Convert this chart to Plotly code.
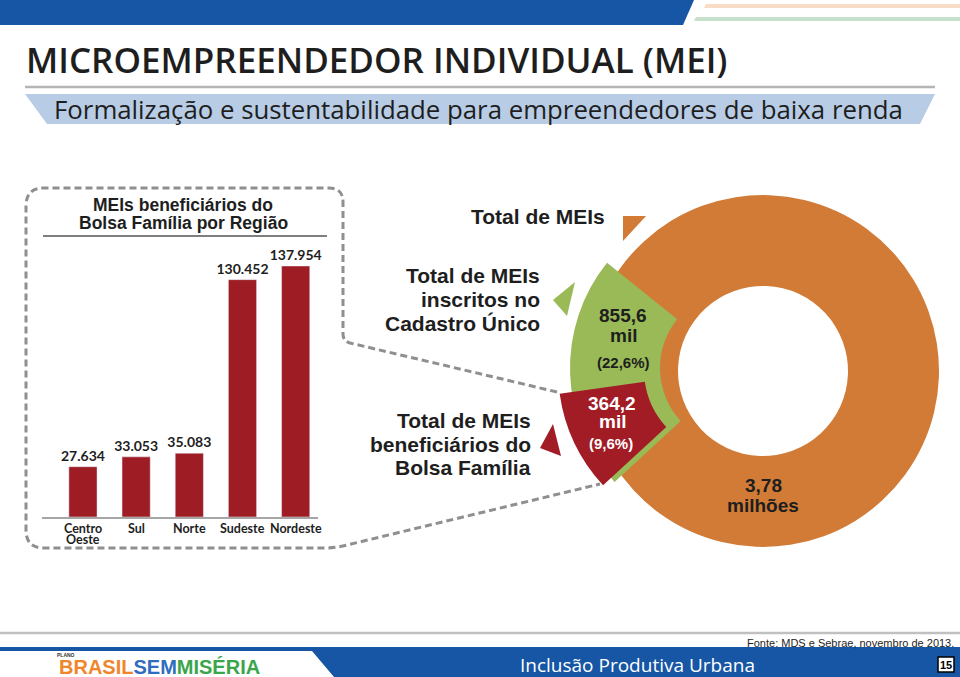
import plotly.graph_objects as go

W, H = 960, 677

# MEIs beneficiarios do Bolsa Familia por regiao
regions = ["Centro Oeste", "Sul", "Norte", "Sudeste", "Nordeste"]
mei_bolsa_regiao = [27634, 33053, 35083, 130452, 137954]

# donut, em mil
total_meis = 3780.0
meis_cadastro = 855.6
meis_bolsa = 364.2

BLUE = "#1656a4"
RED = "#9e1c23"
ORANGE = "#d27b36"
GREEN = "#99ba57"
DARK = "#1e1e1e"
GREY = "#8f8f8f"
ARIAL = "Liberation Sans, Arial"
OPEN = "Open Sans"
LATO = "Lato"


def X(x):
    return x / W


def Y(y):
    return 1 - y / H


def svg(cmds):
    out = []
    for op, *v in cmds:
        pts = [f"{X(v[i]):.5f},{Y(v[i + 1]):.5f}" for i in range(0, len(v), 2)]
        out.append(" ".join([op] + pts))
    return " ".join(out)


def poly(pts, color):
    cmds = [("M", *pts[0])] + [("L", *p) for p in pts[1:]] + [("Z",)]
    fig.add_shape(type="path", xref="paper", yref="paper", path=svg(cmds),
                  fillcolor=color, line_width=0, layer="below")


def hline(x0, x1, y, color, width):
    fig.add_shape(type="line", xref="paper", yref="paper", x0=X(x0), x1=X(x1),
                  y0=Y(y), y1=Y(y), line=dict(color=color, width=width))


def txt(s, x, y, size, color=DARK, family=ARIAL, weight="bold", xanchor="center"):
    fig.add_annotation(text=s, x=X(x), y=Y(y), xref="paper", yref="paper",
                       showarrow=False, xanchor=xanchor, yanchor="middle",
                       font=dict(family=family, size=size, color=color, weight=weight))


def br(v, d=1):
    return f"{v:.{d}f}".replace(".", ",")


fig = go.Figure()

# ---- bar chart by region
fig.add_trace(go.Bar(
    x=regions, y=mei_bolsa_regiao, width=0.53, marker_color=RED,
    text=[f"{v:,}".replace(",", ".") for v in mei_bolsa_regiao],
    textposition="outside", cliponaxis=False, constraintext="none",
    textfont=dict(family=LATO, size=14, color=DARK, weight="bold"),
    hoverinfo="skip", showlegend=False,
))
# region names under the axis (two-line names kept tight)
for r in regions:
    for i, part in enumerate(r.split(" ")):
        fig.add_annotation(text=part, x=r, xref="x", y=Y(528 + 11 * i), yref="paper",
                           showarrow=False, yanchor="middle",
                           font=dict(family=LATO, size=12.5, color=DARK, weight="bold"))

# ---- donut: total, cadastro unico, bolsa familia
start = 227.3 - 360


def ring(values, colors, cx, cy, R, r):
    fig.add_trace(go.Pie(
        values=values, marker=dict(colors=colors), hole=r / R, sort=False,
        direction="clockwise", rotation=start, textinfo="none", hoverinfo="skip",
        domain=dict(x=[X(cx - R), X(cx + R)], y=[Y(cy + R), Y(cy - R)]),
        showlegend=False,
    ))


ring([total_meis], [ORANGE], 763, 371, 176, 85)
ring([meis_cadastro, total_meis - meis_cadastro], [GREEN, "rgba(0,0,0,0)"], 738, 368, 168, 78)
ring([meis_bolsa, total_meis - meis_bolsa], ["#a11c25", "rgba(0,0,0,0)"], 728, 370, 170, 84)

# ---- header
poly([(0, 0), (694, 0), (683, 25), (0, 25)], BLUE)
poly([(706, 4), (960, 4), (960, 8), (704, 8)], "#f8dcc6")
poly([(696, 17), (960, 17), (960, 21), (694, 21)], "#c7e0cc")
txt("MICROEMPREENDEDOR INDIVIDUAL (MEI)", 24, 60, 35, family=OPEN, weight=600, xanchor="left")
hline(25, 935, 87, "#b5b5b5", 2.5)
poly([(25, 94), (935, 94), (920, 124), (47, 124)], "#b8cde5")
txt("Formalização e sustentabilidade para empreendedores de baixa renda", 52, 109, 25.8,
    family=OPEN, weight=500, xanchor="left")

# ---- dashed panel outline (zoom to red slice)
panel = [("M", 557, 392), ("L", 350, 343), ("Q", 343, 341, 343, 334), ("L", 343, 202),
         ("Q", 343, 188, 329, 188), ("L", 44, 188), ("Q", 26, 188, 26, 206),
         ("L", 26, 530), ("Q", 26, 548, 44, 548), ("L", 325, 548),
         ("Q", 336, 548, 347, 545), ("L", 600, 484)]
fig.add_shape(type="path", xref="paper", yref="paper", path=svg(panel),
              line=dict(color=GREY, width=3, dash="7px,4px"))

txt("MEIs beneficiários do", 183, 205, 17.5)
txt("Bolsa Família por Região", 183, 223, 17.5)
hline(43, 327, 236, "#7f7f7f", 2)

# ---- donut labels
txt("Total de MEIs", 607, 216, 21, xanchor="right")
for i, s in enumerate(["Total de MEIs", "inscritos no", "Cadastro Único"]):
    txt(s, 542, 275 + 24 * i, 21, xanchor="right")
for i, s in enumerate(["Total de MEIs", "beneficiários do", "Bolsa Família"]):
    txt(s, 533, 420 + 24 * i, 21, xanchor="right")

poly([(623, 216), (646, 216), (623, 241)], ORANGE)
poly([(553, 300), (575, 282), (567, 316)], GREEN)
poly([(553, 424), (561, 456), (540, 448)], "#a11c25")

txt(br(meis_cadastro), 623, 315, 19)
txt("mil", 623, 335, 19)
txt(f"({br(100 * meis_cadastro / total_meis)}%)", 623, 362, 15)
txt(br(meis_bolsa), 612, 403, 19, color="white")
txt("mil", 612, 421, 19, color="white")
txt(f"({br(100 * meis_bolsa / total_meis)}%)", 611, 443, 15, color="white")
txt(br(total_meis / 1000, 2), 763, 485, 19)
txt("milhões", 763, 505, 19)

# ---- footer
hline(0, 960, 633, "#c0c0c0", 2.5)
txt("Fonte: MDS e Sebrae, novembro de 2013.", 956, 643, 11, weight="normal", xanchor="right")
poly([(0, 647), (960, 647), (960, 677), (334, 677), (312, 651), (0, 651)], BLUE)
txt("Inclusão Produtiva Urbana", 518, 665, 19, color="white", family=OPEN, weight="normal",
    xanchor="left")
fig.add_shape(type="rect", xref="paper", yref="paper", x0=X(938), x1=X(954), y0=Y(672), y1=Y(657),
              fillcolor="white", line=dict(color="black", width=1.5))
txt("15", 946, 665, 11, color="black")
txt("PLANO", 55, 655, 5, color="#333", xanchor="left")
txt('<span style="color:#f0862b">BRASIL</span><span style="color:#2f6dbf">SEM</span>'
    '<span style="color:#3aa64a">MISÉRIA</span>', 57, 667, 20, xanchor="left")

fig.update_layout(
    width=W, height=H, margin=dict(l=0, r=0, t=0, b=0),
    paper_bgcolor="white", plot_bgcolor="white", showlegend=False,
    xaxis=dict(domain=[X(42), X(318)], range=[-0.77, 4.42], showgrid=False, zeroline=False,
               showline=True, linecolor="#a6a6a6", linewidth=2, ticks="", showticklabels=False),
    yaxis=dict(domain=[Y(517), Y(517 - 150000 * 251 / 137954)], range=[0, 150000], visible=False),
)

fig.write_html("out.html", config={"displayModeBar": False},
               post_script="document.body.style.margin='0';"
                           "document.body.style.overflow='hidden';")
